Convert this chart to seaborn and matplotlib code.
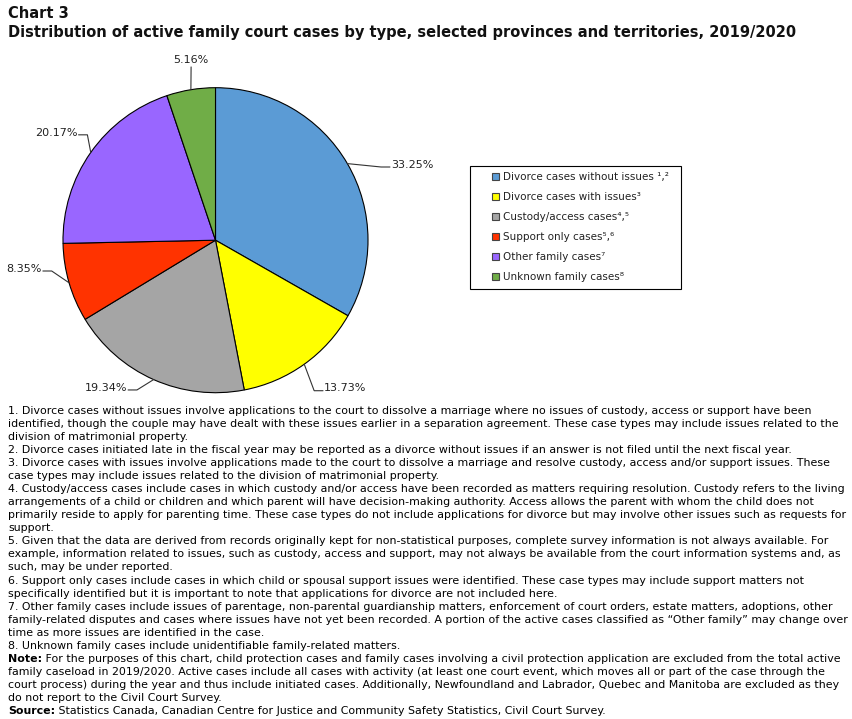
import numpy as np
import matplotlib.pyplot as plt
import seaborn as sns
from matplotlib.patches import Patch, Rectangle

# data
categories = ["Divorce cases without issues", "Divorce cases with issues", "Custody/access cases",
              "Support only cases", "Other family cases", "Unknown family cases"]
notes = [" ¹,²", "³", "⁴,⁵", "⁵,⁶", "⁷", "⁸"]
shares = [33.25, 13.73, 19.34, 8.35, 20.17, 5.16]
colors = ["#5B9BD5", "#FFFF00", "#A5A5A5", "#FF3300", "#9966FF", "#70AD47"]

# label layout: elbow of the leader line (pie radius units) and side of the text
elbows = [(1.086, 0.48), (0.647, -0.987), (-0.515, -0.982), (-1.074, -0.202), (-0.84, 0.691), (-0.16, 1.136)]
sides = ["right", "right", "left", "left", "left", "top"]

title = "Distribution of active family court cases by type, selected provinces and territories, 2019/2020"
footnotes = [
    "1. Divorce cases without issues involve applications to the court to dissolve a marriage where no issues of custody, access or support have been",
    "identified, though the couple may have dealt with these issues earlier in a separation agreement. These case types may include issues related to the",
    "division of matrimonial property.",
    "2. Divorce cases initiated late in the fiscal year may be reported as a divorce without issues if an answer is not filed until the next fiscal year.",
    "3. Divorce cases with issues involve applications made to the court to dissolve a marriage and resolve custody, access and/or support issues. These",
    "case types may include issues related to the division of matrimonial property.",
    "4. Custody/access cases include cases in which custody and/or access have been recorded as matters requiring resolution. Custody refers to the living",
    "arrangements of a child or children and which parent will have decision-making authority. Access allows the parent with whom the child does not",
    "primarily reside to apply for parenting time. These case types do not include applications for divorce but may involve other issues such as requests for",
    "support.",
    "5. Given that the data are derived from records originally kept for non-statistical purposes, complete survey information is not always available. For",
    "example, information related to issues, such as custody, access and support, may not always be available from the court information systems and, as",
    "such, may be under reported.",
    "6. Support only cases include cases in which child or spousal support issues were identified. These case types may include support matters not",
    "specifically identified but it is important to note that applications for divorce are not included here.",
    "7. Other family cases include issues of parentage, non-parental guardianship matters, enforcement of court orders, estate matters, adoptions, other",
    "family-related disputes and cases where issues have not yet been recorded. A portion of the active cases classified as \u201cOther family\u201d may change over",
    "time as more issues are identified in the case.",
    "8. Unknown family cases include unidentifiable family-related matters.",
    "Note: For the purposes of this chart, child protection cases and family cases involving a civil protection application are excluded from the total active",
    "family caseload in 2019/2020. Active cases include all cases with activity (at least one court event, which moves all or part of the case through the",
    "court process) during the year and thus include initiated cases. Additionally, Newfoundland and Labrador, Quebec and Manitoba are excluded as they",
    "do not report to the Civil Court Survey.",
    "Source: Statistics Canada, Canadian Centre for Justice and Community Safety Statistics, Civil Court Survey.",
]

sns.set_theme(style="white")
plt.rcParams['font.family'] = ['DejaVu Sans']

W, H = 852, 719
fig = plt.figure(figsize=(W / 100, H / 100), dpi=100)
fig.patch.set_facecolor('white')

# overlay in pixel coordinates for titles, notes and legend box
bg = fig.add_axes([0, 0, 1, 1])
bg.set_xlim(0, W)
bg.set_ylim(H, 0)
bg.axis('off')

bg.text(8, 13, "Chart 3", fontsize=10.5, fontweight='bold', color='#111', va='center')
bg.text(8, 32, title, fontsize=10.5, fontweight='bold', color='#111', va='center')

# pie
cx, cy, r = 215.5, 240.2, 152.5
ax = fig.add_axes([0, 1 - 400 / H, 440 / W, 350 / H])
wedges, _ = ax.pie(shares, colors=colors, startangle=90, counterclock=False,
                   wedgeprops=dict(edgecolor='black', linewidth=0.8))
ax.set_xlim(-cx / r, (440 - cx) / r)
ax.set_ylim((cy - 400) / r, (cy - 50) / r)
ax.set_aspect('auto')

lab_fs = 8
for w, val, (ex, ey), side in zip(wedges, shares, elbows, sides):
    mid = np.deg2rad((w.theta1 + w.theta2) / 2)
    px, py = np.cos(mid), np.sin(mid)
    txt = f"{val:.2f}%"
    if side == "top":
        ax.plot([px, ex], [py, ey], color='#333', lw=0.8)
        ax.text(ex, ey + 0.01, txt, ha='center', va='bottom', fontsize=lab_fs, color='#222')
    else:
        s = 1 if side == "right" else -1
        hx = ex + s * 0.058
        ax.plot([px, ex, hx], [py, ey, ey], color='#333', lw=0.8)
        ax.text(hx + s * 0.008, ey + 0.015, txt, ha='left' if s > 0 else 'right',
                va='center', fontsize=lab_fs, color='#222')

# legend
handles = [Patch(facecolor=c, edgecolor='#444', linewidth=0.8) for c in colors]
labels = [c + n for c, n in zip(categories, notes)]
fig.legend(handles, labels, loc='upper left', bbox_to_anchor=(492 / W, 1 - 172 / H),
           frameon=False, fontsize=7.5, handlelength=0.7, handleheight=0.7,
           handletextpad=0.35, labelspacing=0.96, borderpad=0, borderaxespad=0,
           labelcolor='#222')
bg.add_patch(Rectangle((470, 166), 211, 123, fill=False, edgecolor='black', lw=0.8))

# footnotes
fs = 7.9
y0, dy = 411, 13.04
for i, line in enumerate(footnotes):
    y = y0 + i * dy
    if line.startswith(("Note:", "Source:")):
        head, rest = line.split(":", 1)
        t = bg.text(8, y, head + ":", fontsize=fs, fontweight='bold', va='center', color='black')
        bg.annotate(rest, xy=(1, 0), xycoords=t, va='bottom', ha='left', fontsize=fs, color='black')
    else:
        bg.text(8, y, line, fontsize=fs, va='center', color='black')

fig.savefig('out.png', dpi=100)
